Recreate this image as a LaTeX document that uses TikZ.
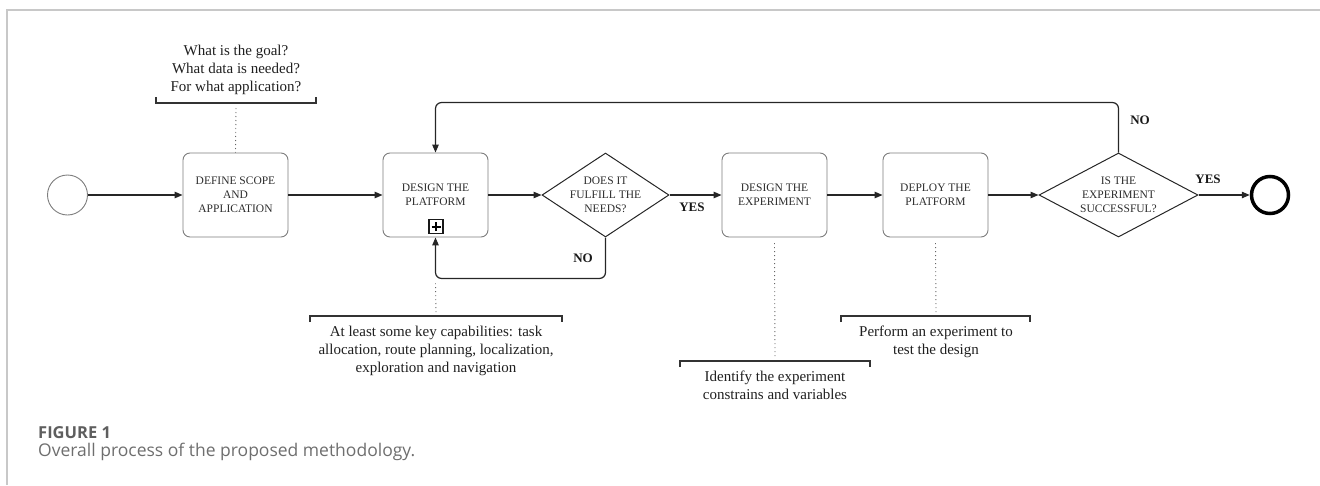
\documentclass[tikz,border=0pt]{standalone}
\usepackage{fontspec}
\setmainfont{Liberation Serif}
\newfontfamily\capfont{Open Sans}
\usepackage{tikz}
\usetikzlibrary{positioning, arrows.meta, shapes.geometric, calc}

\definecolor{framegray}{RGB}{200,200,200}
\definecolor{boxgray}{RGB}{125,125,125}
\definecolor{inkgray}{RGB}{45,45,45}
\definecolor{capgray}{RGB}{110,110,110}

\tikzset{
    task/.style={draw=boxgray, line width=0.9pt, rounded corners=7pt,
        minimum width=105pt, minimum height=84pt, align=center,
        text=inkgray, font=\fontsize{11.5}{14}\selectfont},
    decider/.style={draw=black!85, line width=1pt, diamond, inner sep=0pt,
        minimum height=84pt},
    decidertext/.style={align=center, text=inkgray,
        font=\fontsize{11.5}{14}\selectfont},
    flow/.style={draw=black!85, line width=1.2pt,
        -{Triangle[length=8pt,width=6.5pt]}},
    loopflow/.style={flow, rounded corners=6pt},
    answer/.style={font=\fontsize{13}{15}\selectfont\bfseries, text=black!90},
    note/.style={align=center, inner sep=0pt, text=black!88,
        font=\fontsize{15}{18}\selectfont},
    bracket/.style={draw=black!80, line width=1.2pt},
    tie/.style={draw=black!60, line width=0.9pt, dash pattern=on 1pt off 3pt},
}

\begin{document}
\begin{tikzpicture}[x=1pt, y=-1pt]
    \useasboundingbox (0,0) rectangle (1320,485);

    % page frame
    \draw[framegray, line width=1.5pt] (7,485) -- (7,10) -- (1320,10);

    % main flow
    \node[circle, draw=boxgray, line width=0.9pt, minimum size=40pt] (start) at (67.5,195) {};
    \node[task] (scope) at (235.5,195) {DEFINE SCOPE\\AND\\APPLICATION};
    \node[task] (platform) at (435.5,195) {DESIGN THE\\PLATFORM};
    \node[draw=black!90, line width=1.1pt, minimum size=14pt, inner sep=0pt] (subproc) at (436,226.5) {};
    \draw[black, line width=2pt] ([xshift=-4.5pt]subproc.center) -- ([xshift=4.5pt]subproc.center);
    \draw[black, line width=2pt] ([yshift=-4.5pt]subproc.center) -- ([yshift=4.5pt]subproc.center);
    \node[decider, minimum width=127pt, label={[decidertext]center:DOES IT\\FULFILL THE\\NEEDS?}] (fulfill) at (605.5,195) {};
    \node[task] (experiment) at (774.5,195) {DESIGN THE\\EXPERIMENT};
    \node[task] (deploy) at (935.5,195) {DEPLOY THE\\PLATFORM};
    \node[decider, minimum width=159pt, label={[decidertext]center:IS THE\\EXPERIMENT\\SUCCESSFUL?}] (success) at (1118.5,195) {};
    \node[circle, draw=black, line width=3.5pt, minimum size=37pt] (stop) at (1270,195) {};

    \foreach \a/\b in {start/scope, scope/platform, platform/fulfill,
        fulfill/experiment, experiment/deploy, deploy/success, success/stop}
    {
        \draw[flow] (\a) -- (\b);
    }

    % loops back to the platform design
    \draw[loopflow] (fulfill.south) |- ([yshift=-41pt]platform.south) -- (platform.south);
    \draw[loopflow] (success.north) |- ([yshift=50pt]platform.north) -- (platform.north);

    \node[answer] (yesfulfill) at (692,207) {YES};
    \node[answer] (nofulfill) at (583,258) {NO};
    \node[answer] (yessuccess) at (1208,179) {YES};
    \node[answer] (nosuccess) at (1140,120) {NO};

    % annotations
    \node[note] (goalnote) at (236,70) {What is the goal?\\What data is needed?\\For what application?};
    \node[note] (platnote) at (436,351) {At least some key capabilities: task\\allocation, route planning, localization,\\exploration and navigation};
    \node[note] (expnote) at (775,385.5) {Identify the experiment\\constrains and variables};
    \node[note] (deploynote) at (936,341.5) {Perform an experiment to\\test the design};

    \coordinate (goaltie) at (236,108);
    \coordinate (plattie) at (436,312);
    \coordinate (exptie) at (775,356);
    \coordinate (deploytie) at (936,312);

    % brackets
    \foreach \l/\r/\y/\d in {156/316/103/-6, 310/562/316/6, 680/870/361/6, 841/1030/316/6}
    {
        \draw[bracket] (\l,\y+\d) -- (\l,\y) -- (\r,\y) -- (\r,\y+\d);
    }

    \draw[tie] (goaltie) -- (scope.north);
    \draw[tie] (plattie) -- ([yshift=-46pt]platform.south);
    \draw[tie] (exptie) -- ([yshift=-3pt]experiment.south);
    \draw[tie] (deploytie) -- ([yshift=-3pt]deploy.south);

    % caption
    \node[anchor=base west, inner sep=0pt, text=capgray!85!black,
        font=\capfont\bfseries\fontsize{16.5}{18}\selectfont] (figlabel) at (38,438) {FIGURE 1};
    \node[anchor=base west, inner sep=0pt, text=capgray,
        font=\capfont\fontsize{17.5}{20}\selectfont] (figcaption) at (38,456) {Overall process of the proposed methodology.};
\end{tikzpicture}
\end{document}
